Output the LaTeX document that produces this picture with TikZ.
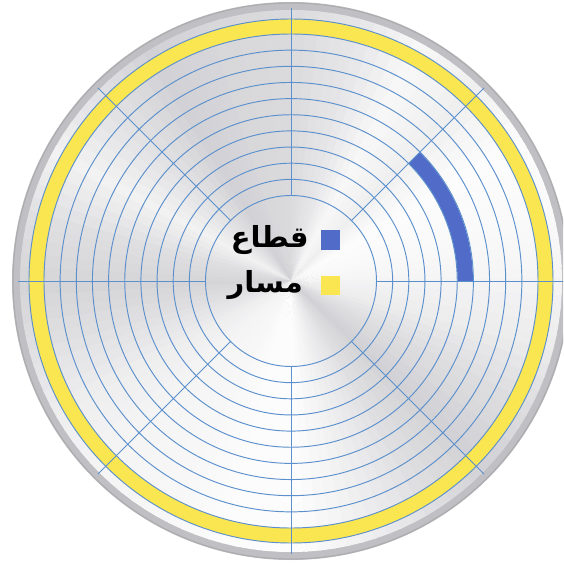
\documentclass[tikz,border=0pt]{standalone}
\usepackage{fontspec}
\newfontfamily\arabicfont[Script=Arabic]{DejaVu Sans}
\TeXXeTstate=1
\usetikzlibrary{positioning}
\definecolor{trackline}{RGB}{92,144,204}
\definecolor{sectorblue}{RGB}{80,108,200}
\definecolor{trackyellow}{RGB}{250,230,80}
\definecolor{diskgray}{RGB}{150,150,158}
\definecolor{rimgray}{RGB}{192,192,196}
\tikzset{every picture/.style={line width=0.75pt}}
\tikzset{
  trackcircle/.style={draw=trackline, line width=0.95pt},
  legendbox/.style={minimum size=19pt, inner sep=0pt},
  legendlabel/.style={font=\arabicfont\bfseries\fontsize{29}{29}\selectfont, inner sep=0pt, text=black},
}

\begin{document}
\begin{tikzpicture}[x=1pt,y=1pt]
    \useasboundingbox (-291,-284) rectangle (272,281);
    \fill[white] (-291,-284) rectangle (272,281);
    \clip (-291,-284) rectangle (272,281);
    \fill[rimgray] (0,0) circle (279);
    \draw[rimgray!90!black, line width=1.2pt] (0,0) circle (278);
    \foreach \a/\da/\db in {0/0.2/0.1, 15/0.1/0.05, 30/0.05/0.3, 45/0.3/0.15,
        60/0.15/0.5, 75/0.5/0.7, 90/0.7/0.75, 105/0.75/0.85, 120/0.85/0.55,
        135/0.55/0.25, 150/0.25/0.6, 165/0.6/0.8, 180/0.8/0.55, 195/0.55/0.3,
        210/0.3/0.2, 225/0.2/0.15, 240/0.15/0.05, 255/0.05/0.05, 270/0.05/0.3,
        285/0.3/0.6, 300/0.6/0.85, 315/0.85/0.65, 330/0.65/0.35, 345/0.35/0.2}{
        \foreach \k in {0,...,4}{
            \pgfmathsetmacro\w{100-50*(\da+(\db-\da)*\k/5)}
            \pgfmathsetmacro\s{\a+3*\k}
            \fill[white!\w!diskgray] (0,0) -- (\s:271) arc (\s:\s+3.6:271) -- cycle;
        }
    }
    \fill[trackyellow, even odd rule] (0,0) circle (262) circle (247);
    \fill[sectorblue] (0:166.5) arc (0:45:166.5) -- (45:182) arc (45:0:182) -- cycle;
    \foreach \k in {0,...,10}
        \draw[trackcircle] (0,0) circle ({85.5+16.15*\k});
    \draw[trackcircle] (0,0) circle (262);
    \foreach \a in {0,45,...,315}
        \draw[trackline, line width=0.95pt] (\a:85.5) -- (\a:273);
    \node[legendbox, fill=sectorblue] (sectorkey) at (39,41) {};
    \node[legendbox, fill=trackyellow] (trackkey) at (39,-4) {};
    \node[legendlabel, left=11pt of sectorkey] (sectorlabel) {\beginR قطاع\endR};
    \node[legendlabel, left=17pt of trackkey] (tracklabel) {\beginR مسار\endR};
\end{tikzpicture}
\end{document}
